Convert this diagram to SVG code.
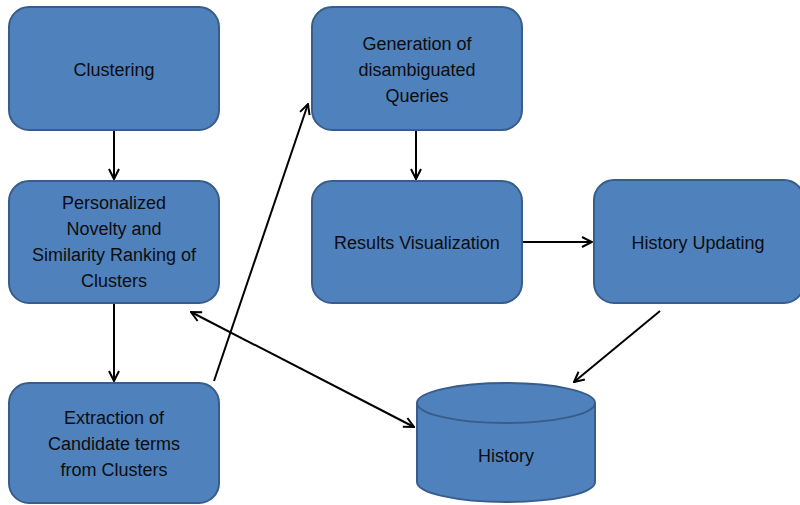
<svg xmlns="http://www.w3.org/2000/svg" width="800" height="505" viewBox="0 0 800 505">
<defs>
<style>
.box{fill:#4F81BD;stroke:#385D8A;stroke-width:2}
.lbl{font-family:"Liberation Sans",Arial,sans-serif;font-size:18px;fill:#0d0d0d;text-anchor:middle}
.con{stroke:#000;stroke-width:2;fill:none}
</style>
<marker id="arr" viewBox="0 0 12 12" refX="11" refY="6" markerWidth="12" markerHeight="12" markerUnits="userSpaceOnUse" orient="auto-start-reverse">
<path d="M1,1 L11,6 L1,11" fill="none" stroke="#000" stroke-width="2"/>
</marker>
</defs>
<rect width="800" height="505" fill="#fff"/>
<g id="clustering">
<rect class="box" x="9" y="7" width="210" height="123" rx="20"/>
<text class="lbl" x="114" y="76">Clustering</text>
</g>
<g id="ranking">
<rect class="box" x="9" y="181" width="210" height="122" rx="20"/>
<text class="lbl" x="114" y="209">Personalized</text>
<text class="lbl" x="114" y="235">Novelty and</text>
<text class="lbl" x="114" y="261">Similarity Ranking of</text>
<text class="lbl" x="114" y="287">Clusters</text>
</g>
<g id="extraction">
<rect class="box" x="9" y="383" width="210" height="120" rx="20"/>
<text class="lbl" x="114" y="424">Extraction of</text>
<text class="lbl" x="114" y="450">Candidate terms</text>
<text class="lbl" x="114" y="476">from Clusters</text>
</g>
<g id="generation">
<rect class="box" x="312" y="7" width="210" height="123" rx="20"/>
<text class="lbl" x="417" y="50">Generation of</text>
<text class="lbl" x="417" y="76">disambiguated</text>
<text class="lbl" x="417" y="102">Queries</text>
</g>
<g id="results">
<rect class="box" x="312" y="181" width="210" height="122" rx="20"/>
<text class="lbl" x="417" y="249">Results Visualization</text>
</g>
<g id="historyUpdating">
<rect class="box" x="594" y="180" width="210" height="123" rx="20"/>
<text class="lbl" x="698" y="249">History Updating</text>
</g>
<g id="history">
<path class="box" d="M417,403 L417,482 A89,20 0 0 0 595,482 L595,403 A89,20 0 0 0 417,403 Z"/>
<path d="M417,403 A89,20 0 0 0 595,403" fill="none" stroke="#385D8A" stroke-width="2"/>
<text class="lbl" x="506" y="462">History</text>
</g>
<g id="connectors">
<line class="con" x1="114" y1="131" x2="114" y2="179" marker-end="url(#arr)"/>
<line class="con" x1="114" y1="304" x2="114" y2="381" marker-end="url(#arr)"/>
<line class="con" x1="416" y1="131" x2="416" y2="179" marker-end="url(#arr)"/>
<line class="con" x1="523" y1="242" x2="592" y2="242" marker-end="url(#arr)"/>
<line class="con" x1="660" y1="311" x2="574" y2="382" marker-end="url(#arr)"/>
<line class="con" x1="214" y1="381" x2="308" y2="104" marker-end="url(#arr)"/>
<line class="con" x1="191" y1="312" x2="414" y2="427" marker-start="url(#arr)" marker-end="url(#arr)"/>
</g>
</svg>
